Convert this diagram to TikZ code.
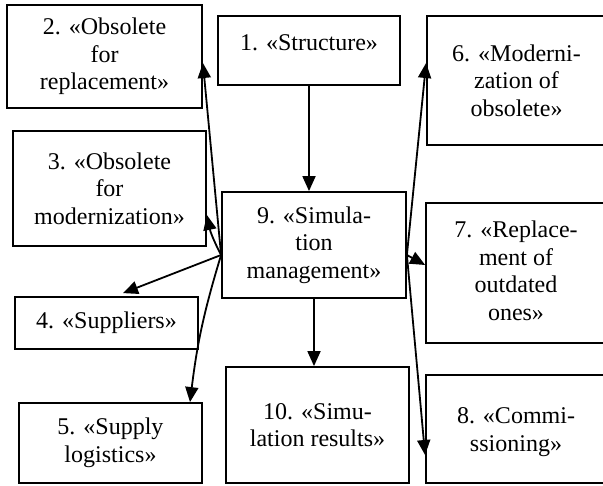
\documentclass[tikz,border=0pt]{standalone}
\usepackage{fontspec}
\setmainfont{Liberation Serif}
\usetikzlibrary{arrows.meta}
\begin{document}
\begin{tikzpicture}[x=1pt,y=-1pt,
  box/.style={draw,line width=1.8pt,inner sep=0pt},
  lbl/.style={align=center,inner sep=0pt,font=\fontsize{24}{27.5}\selectfont},
  conn/.style={line width=1.8pt,-{Triangle[length=15pt,width=13pt]}}]
\useasboundingbox (0,0) rectangle (603,486);
% boxes
\node[box,minimum width=195pt,minimum height=103pt] (b2) at (104.5,56.5) {};
\node[box,minimum width=182pt,minimum height=69pt] (b1) at (309,50.5) {};
\node[box,minimum width=193pt,minimum height=115pt] (b3) at (109.5,188.5) {};
\node[box,minimum width=184pt,minimum height=106pt] (b9) at (314,245) {};
\node[box,minimum width=179pt,minimum height=129pt] (b6) at (516.5,80.5) {};
\node[box,minimum width=180pt,minimum height=140pt] (b7) at (516,273) {};
\node[box,minimum width=183pt,minimum height=52pt] (b4) at (106.5,323) {};
\node[box,minimum width=183pt,minimum height=80pt] (b5) at (110.5,443) {};
\node[box,minimum width=183pt,minimum height=116pt] (b10) at (317.5,425) {};
\node[box,minimum width=180pt,minimum height=108pt] (b8) at (516,429) {};
% texts
\node[lbl] (t1) at (309,43) {1. «Structure»};
\node[lbl] (t2) at (b2.center) {2. «Obsolete\\for\\replacement»};
\node[lbl] (t3) at (b3.center) {3. «Obsolete\\for\\modernization»};
\node[lbl] (t4) at (b4.center) {4. «Suppliers»};
\node[lbl] (t5) at (b5.center) {5. «Supply\\logistics»};
\node[lbl] (t6) at (b6.center) {6. «Moderni-\\zation of\\obsolete»};
\node[lbl] (t7) at ([yshift=2pt]b7.center) {7. «Replace-\\ment of\\outdated\\ones»};
\node[lbl] (t8) at ([yshift=-3pt]b8.center) {8. «Commi-\\ssioning»};
\node[lbl] (t9) at (b9.center) {9. «Simula-\\tion\\management»};
\node[lbl] (t10) at (b10.center) {10. «Simu-\\lation results»};
% connection points
\coordinate (L) at ([yshift=-10pt]b9.west);
\coordinate (R) at ([yshift=-10pt]b9.east);
% connectors
\draw[conn] (b1.south) -- (b1.south |- b9.north);
\draw[conn] (b9.south) -- (b9.south |- b10.north);
\draw[conn] (L) -- ([yshift=-6.5pt]b2.east);
\draw[conn] (L) to[bend left=8] ([yshift=-26.5pt]b3.east);
\draw[conn] (L) -- ([xshift=16.5pt,yshift=3pt]b4.north);
\draw[conn] (L) to[bend right=5] ([xshift=79.5pt]b5.north);
\draw[conn] (R) -- ([yshift=17.5pt]b6.west);
\draw[conn] (R) -- ([yshift=8pt]b7.west);
\draw[conn] (R) -- ([yshift=-26pt]b8.west);
\end{tikzpicture}
\end{document}
